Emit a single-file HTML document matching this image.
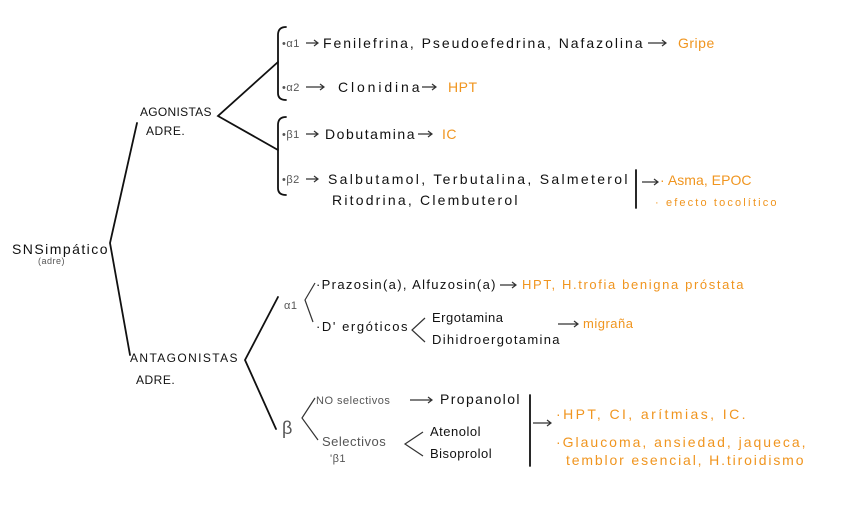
<!DOCTYPE html>
<html><head><meta charset="utf-8"><style>
html,body{margin:0;padding:0;background:#fff;}
svg{display:block}
text{font-family:"Liberation Sans",sans-serif;fill:#111;font-size:14px;letter-spacing:0.5px}
.o{fill:#f0951f}
.g{fill:#555}
.s{font-size:11px}
</style></head><body>
<svg width="848" height="530" viewBox="0 0 848 530" xmlns="http://www.w3.org/2000/svg">
<g stroke="#111" stroke-width="1.8" fill="none" stroke-linecap="round">
<polyline points="137,123 110,243 130,355"/>
<polyline points="278,62 218,116 278,150"/>
<path d="M286,27 Q278,27 278,35 L278,93 Q278,100 286,100"/>
<path d="M286,117 Q278,117 278,125 L278,188 Q278,195 286,195"/>
<line x1="636" y1="170" x2="636" y2="208"/>
<polyline points="278,297 245,360 276,429"/>
<line x1="530" y1="395" x2="530" y2="466"/>
</g>
<g stroke="#333" stroke-width="1.2" fill="none">
<polyline points="315,283 305,300 313,322"/>
<polyline points="425,318 412,330 425,342"/>
<polyline points="315,398 302,418 318,440"/>
<polyline points="423,432 405,444 423,456"/>
<path d="M306,43 h12 m-4,-3 l4,3 l-4,3"/>
<path d="M306,87 h18 m-4,-3 l4,3 l-4,3"/>
<path d="M306,134 h12 m-4,-3 l4,3 l-4,3"/>
<path d="M306,179 h12 m-4,-3 l4,3 l-4,3"/>
<path d="M648,43 h18 m-4,-3 l4,3 l-4,3"/>
<path d="M422,87 h14 m-4,-3 l4,3 l-4,3"/>
<path d="M418,134 h14 m-4,-3 l4,3 l-4,3"/>
<path d="M642,182 h16 m-4,-3 l4,3 l-4,3"/>
<path d="M500,285 h16 m-4,-3 l4,3 l-4,3"/>
<path d="M558,324 h20 m-4,-3 l4,3 l-4,3"/>
<path d="M410,400 h22 m-4,-3 l4,3 l-4,3"/>
<path d="M533,423 h18 m-4,-3 l4,3 l-4,3"/>
</g>
<text x="12" y="254" textLength="96">SNSimpático</text>
<text x="38" y="264" class="g s" style="font-size:9px">(adre)</text>
<text x="140" y="116" textLength="72" style="font-size:12px">AGONISTAS</text>
<text x="146" y="135" style="font-size:12px">ADRE.</text>
<text x="130" y="362" textLength="108" style="font-size:12px">ANTAGONISTAS</text>
<text x="136" y="384" style="font-size:12px">ADRE.</text>

<text x="282" y="47" class="g s">•α1</text>
<text x="323" y="48" textLength="320">Fenilefrina, Pseudoefedrina, Nafazolina</text>
<text x="678" y="48" class="o">Gripe</text>
<text x="282" y="91" class="g s">•α2</text>
<text x="338" y="92" textLength="82">Clonidina</text>
<text x="448" y="92" class="o">HPT</text>
<text x="282" y="138" class="g s">•β1</text>
<text x="325" y="139" textLength="90">Dobutamina</text>
<text x="442" y="139" class="o">IC</text>
<text x="282" y="183" class="g s">•β2</text>
<text x="328" y="184" textLength="300">Salbutamol, Terbutalina, Salmeterol</text>
<text x="332" y="205" textLength="186">Ritodrina,   Clembuterol</text>
<text x="660" y="185" class="o" textLength="92">· Asma, EPOC</text>
<text x="655" y="206" class="o s" textLength="122">· efecto tocolítico</text>

<text x="284" y="309" class="g s">α1</text>
<text x="316" y="289" textLength="180" style="font-size:13px">·Prazosin(a), Alfuzosin(a)</text>
<text x="522" y="289" class="o" textLength="222" style="font-size:13px">HPT, H.trofia benigna próstata</text>
<text x="316" y="331" textLength="92" style="font-size:13px">·D' ergóticos</text>
<text x="432" y="322" style="font-size:13px">Ergotamina</text>
<text x="432" y="344" textLength="128" style="font-size:13px">Dihidroergotamina</text>
<text x="583" y="328" class="o" style="font-size:13px">migraña</text>

<text x="282" y="434" class="g" style="font-size:18px">β</text>
<text x="316" y="404" class="g s">NO selectivos</text>
<text x="440" y="404" textLength="80">Propanolol</text>
<text x="322" y="446" class="g" style="font-size:13px">Selectivos</text>
<text x="330" y="462" class="g s">'β1</text>
<text x="430" y="436" style="font-size:13px">Atenolol</text>
<text x="430" y="458" style="font-size:13px">Bisoprolol</text>
<text x="556" y="419" class="o" textLength="190">·HPT, CI, arítmias, IC.</text>
<text x="556" y="447" class="o" textLength="250">·Glaucoma, ansiedad, jaqueca,</text>
<text x="566" y="465" class="o" textLength="238">temblor esencial, H.tiroidismo</text>
</svg>
</body></html>
